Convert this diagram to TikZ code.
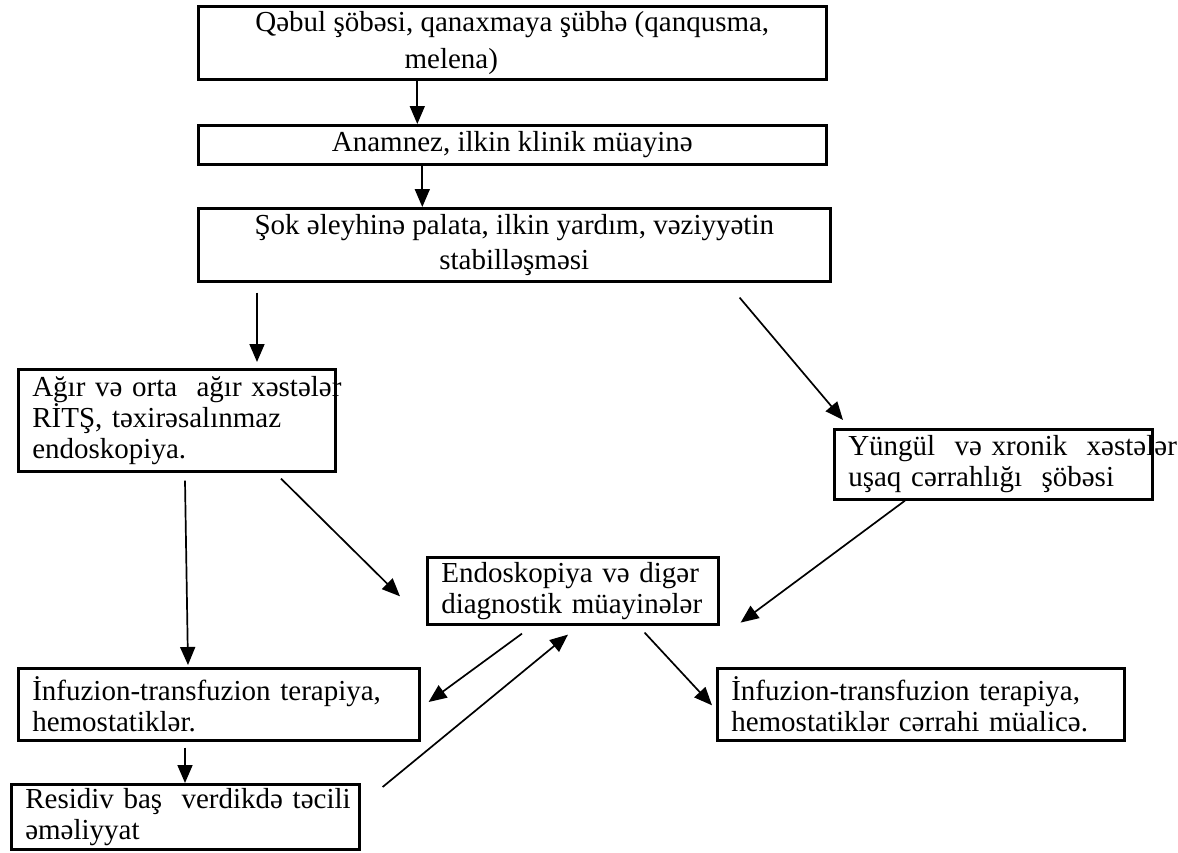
\documentclass[tikz,border=0pt]{standalone}
\usepackage{fontspec}
\setmainfont{Liberation Serif}
\usetikzlibrary{arrows.meta}
\tikzset{
    box/.style={
        rectangle, draw=black, line width=1.3pt, inner xsep=7pt, inner ysep=2pt,
        anchor=north west, align=center, font=\fontsize{14.5}{15.5}\selectfont
    },
    box_left/.style={
        box, align=left
    },
    arrow/.style={
        line width=0.85pt, -{Triangle[length=9pt, width=7.5pt]}, draw=black
    }
}

\begin{document}
\begin{tikzpicture}[x=0.5pt, y=-0.5pt]
    \useasboundingbox (0,0) rectangle (1178,852);

    \node[box, minimum width=314pt, minimum height=36.5pt] (qabul) at (197,5) {Qəbul şöbəsi, qanaxmaya şübhə (qanqusma,\\[3pt]melena)\hspace{61pt}\mbox{}};
    \node[box, minimum width=314pt, minimum height=19.5pt] (anamnez) at (197,124) {Anamnez, ilkin klinik müayinə};
    \node[box, minimum width=316pt, minimum height=36.5pt] (shok) at (197,207) {Şok əleyhinə palata, ilkin yardım, vəziyyətin\\[2pt]stabilləşməsi};
    \node[box_left, text width=144.5pt, minimum width=158.5pt, minimum height=51pt] (agir) at (17,368) {\mbox{Ağır və orta\ \ ağır xəstələr}\\RİTŞ, təxirəsalınmaz\\endoskopiya.};
    \node[box_left, text width=145pt, minimum width=159pt, minimum height=35pt] (yungul) at (833,428) {\mbox{Yüngül\ \ və xronik\ \ xəstələr}\\uşaq cərrahlığı\ \ şöbəsi};
    \node[box_left, text width=131.5pt, minimum width=145.5pt, minimum height=33.5pt] (endo) at (426,556) {Endoskopiya və digər\\diagnostik müayinələr};
    \node[box_left, text width=186.5pt, minimum width=200.5pt, minimum height=36pt] (infuz_a) at (17,667) {İnfuzion-transfuzion terapiya,\\hemostatiklər.};
    \node[box_left, text width=189.5pt, minimum width=203.5pt, minimum height=36pt] (infuz_b) at (716,667) {İnfuzion-transfuzion terapiya,\\hemostatiklər cərrahi müalicə.};
    \node[box_left, text width=160pt, minimum width=174pt, minimum height=30pt] (residiv) at (10,783) {\mbox{Residiv baş\ \ verdikdə təcili}\\əməliyyat};

    \draw[arrow] ([xshift=-47.5pt]qabul.south) -- ([xshift=-47.5pt]anamnez.north);
    \draw[arrow] ([xshift=-45pt]anamnez.south) -- ([xshift=-45pt]anamnez.south |- shok.north);
    \draw[arrow, shorten >=3pt] ([xshift=30pt,yshift=-5pt]shok.south west) -- ([xshift=30pt]shok.south west |- agir.north);
    \draw[arrow] ([xshift=-46pt,yshift=-7.5pt]shok.south east) -- ([xshift=5pt,yshift=4pt]yungul.north west);
    \draw[arrow] ([xshift=84pt,yshift=-4pt]agir.south west) -- ([xshift=85.5pt,yshift=1pt]infuz_a.north west);
    \draw[arrow] ([xshift=132pt,yshift=-3pt]agir.south west) -- ([xshift=-13pt,yshift=-2.75pt]endo.west);
    \draw[arrow] ([xshift=36pt]yungul.south west) -- ([xshift=10.5pt,yshift=1.5pt]endo.south east);
    \draw[arrow] ([xshift=48pt,yshift=-4pt]endo.south west) -- ([xshift=4pt,yshift=-17.5pt]infuz_a.north east);
    \draw[arrow] ([xshift=11pt,yshift=-2pt]residiv.north east) -- ([xshift=71pt,yshift=-4.5pt]endo.south west);
    \draw[arrow] ([xshift=-37.5pt,yshift=-3.5pt]endo.south east) -- ([xshift=-2pt,yshift=-0.5pt]infuz_b.west);
    \draw[arrow] ([xshift=84pt,yshift=-3pt]infuz_a.south west) -- ([xshift=84pt]infuz_a.south west |- residiv.north);
\end{tikzpicture}
\end{document}
